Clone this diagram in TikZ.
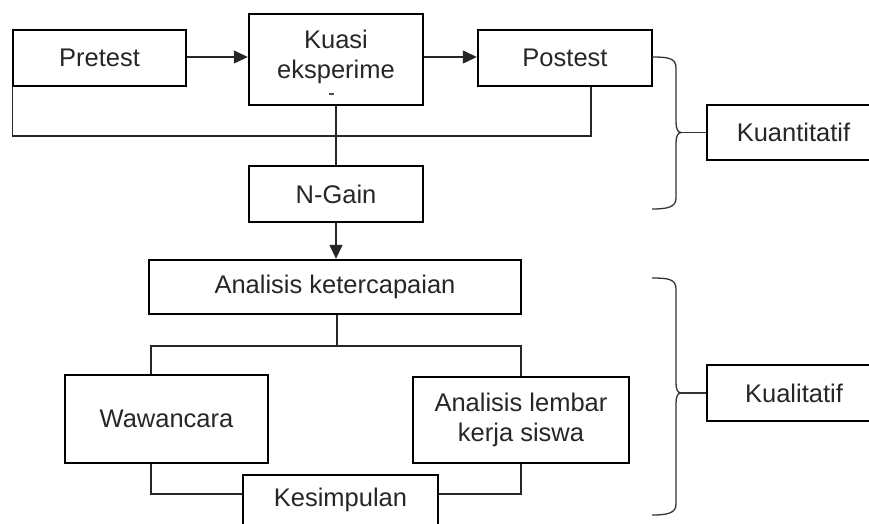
\documentclass[tikz,border=0pt]{standalone}
\usepackage{fontspec}
\setmainfont{Liberation Sans}
\usetikzlibrary{arrows.meta}
\begin{document}
\begin{tikzpicture}[x=1pt,y=1pt,
  font=\fontsize{25.5}{30}\selectfont,
  box/.style={draw=black,line width=2.4pt,inner sep=0pt,align=center,text=black!85},
  conn/.style={draw=black!85,line width=1.3pt},
  arr/.style={conn,-{Triangle[length=14pt,width=13pt]}},
  brace/.style={draw=black!80,line width=1.3pt}]
\useasboundingbox (0,0) rectangle (869,-523);
% boxes
\node[box,minimum width=173pt,minimum height=56pt] (pre) at (99.5,-58) {Pretest};
\node[box,minimum width=174pt,minimum height=91pt] (kuasi) at (336,-59.5) {};
\node[align=center,inner sep=0pt,text=black!85] (kuasitxt) at (336,-57) {Kuasi\\eksperime};
\draw[black!70,line width=1.1pt] (329,-94) -- (334,-94);
\node[box,minimum width=174pt,minimum height=56pt] (post) at (565,-58) {Postest};
\node[box,minimum width=174pt,minimum height=56pt] (ngain) at (336,-194) {N-Gain};
\node[box,minimum width=372pt,minimum height=54pt] (anal) at (335,-287) {Analisis ketercapaian};
\node[box,minimum width=203pt,minimum height=88pt] (waw) at (166.5,-419) {Wawancara};
\node[box,minimum width=216pt,minimum height=86pt] (alks) at (521,-420) {Analisis lembar\\kerja siswa};
\node[box,minimum width=195pt,minimum height=50pt] (kes) at (340.5,-500) {Kesimpulan};
\node[box,minimum width=173pt,minimum height=55pt] (kuan) at (793.5,-132.5) {Kuantitatif};
\node[box,minimum width=174pt,minimum height=56pt] (kual) at (794,-393) {Kualitatif};
% coordinates
\coordinate (bus) at (336,-136);
\coordinate (split) at (337,-346);
\coordinate (tipA) at (681,-132.5);
\coordinate (tipB) at (681,-393);
% connectors
\draw[arr] (pre.east |- 0,-57) -- (kuasi.west |- 0,-57);
\draw[arr] (kuasi.east |- 0,-57) -- (post.west |- 0,-57);
\draw[conn] ([xshift=1pt]pre.south west) |- (bus) -| ([xshift=26pt]post.south);
\draw[conn] (kuasi.south) -- (ngain.north);
\draw[arr] (ngain.south) -- (ngain.south |- anal.north);
\draw[conn] (anal.south -| split) -- (split);
\draw[conn] (split) -| ([xshift=-15.5pt]waw.north);
\draw[conn] (split) -| (alks.north);
\draw[conn] ([xshift=-15.5pt]waw.south) |- ([yshift=6pt]kes.west);
\draw[conn] (alks.south) |- ([yshift=6pt]kes.east);
% braces
\draw[brace] (652,-57) .. controls (668,-57) and (676,-58) .. (676,-68) -- (676,-122)
  .. controls (676,-129) and (678,-132.5) .. (tipA)
  .. controls (678,-132.5) and (676,-136) .. (676,-143) -- (676,-198)
  .. controls (676,-207) and (668,-209) .. (652,-209);
\draw[brace] (tipA) -- (kuan.west);
\draw[brace] (652,-278) .. controls (668,-278) and (676,-279) .. (676,-289) -- (676,-383)
  .. controls (676,-390) and (678,-393) .. (tipB)
  .. controls (678,-393) and (676,-396) .. (676,-403) -- (676,-504)
  .. controls (676,-513) and (668,-515) .. (652,-515);
\draw[brace] (tipB) -- (kual.west);
\end{tikzpicture}
\end{document}
